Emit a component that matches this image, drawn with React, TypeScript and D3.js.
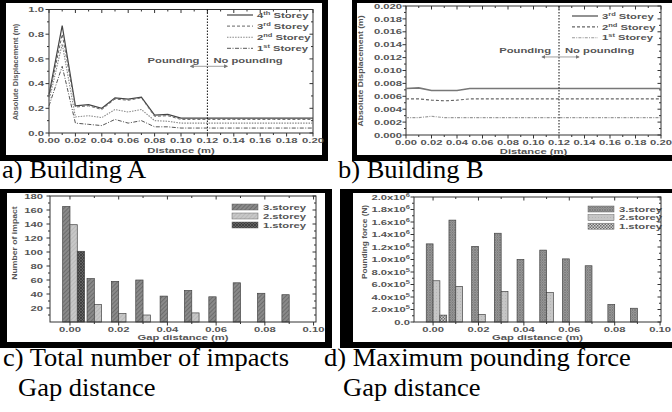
import * as React from 'react';
import * as d3 from 'd3';

// ---- a) / b) absolute displacement against distance
const distance = [0, 0.01, 0.02, 0.03, 0.04, 0.05, 0.06, 0.07, 0.08, 0.09, 0.1, 0.11, 0.12, 0.13, 0.14, 0.15, 0.16, 0.17, 0.18, 0.19, 0.2];
const a4th = [0.31, 0.87, 0.22, 0.23, 0.2, 0.285, 0.275, 0.29, 0.145, 0.15, 0.12, 0.12, 0.12, 0.12, 0.12, 0.12, 0.12, 0.12, 0.12, 0.12, 0.12];
const a3rd = [0.29, 0.8, 0.21, 0.22, 0.19, 0.275, 0.265, 0.285, 0.135, 0.14, 0.11, 0.11, 0.11, 0.11, 0.11, 0.11, 0.11, 0.11, 0.11, 0.11, 0.11];
const a2nd = [0.26, 0.72, 0.13, 0.14, 0.125, 0.19, 0.17, 0.19, 0.1, 0.095, 0.08, 0.08, 0.08, 0.08, 0.08, 0.08, 0.08, 0.08, 0.08, 0.08, 0.08];
const a1st = [0.22, 0.54, 0.08, 0.07, 0.06, 0.11, 0.08, 0.1, 0.05, 0.05, 0.04, 0.04, 0.04, 0.04, 0.04, 0.04, 0.04, 0.04, 0.04, 0.04, 0.04];
const b3rd = [0.0072, 0.0073, 0.0069, 0.0069, 0.0069, 0.0072, 0.0072, 0.0072, 0.0072, 0.0072, 0.0072, 0.0072, 0.0072, 0.0072, 0.0072, 0.0072, 0.0072, 0.0072, 0.0072, 0.0072, 0.0072];
const b2nd = [0.0056, 0.0056, 0.0054, 0.0053, 0.0054, 0.0056, 0.0056, 0.0056, 0.0056, 0.0056, 0.0056, 0.0056, 0.0056, 0.0056, 0.0056, 0.0056, 0.0056, 0.0056, 0.0056, 0.0056, 0.0056];
const b1st = [0.0027, 0.0027, 0.0029, 0.0027, 0.0027, 0.0027, 0.0027, 0.0027, 0.0027, 0.0027, 0.0027, 0.0027, 0.0027, 0.0027, 0.0027, 0.0027, 0.0027, 0.0027, 0.0027, 0.0027, 0.0027];
const poundingLimit = 0.12;

const distTicks = [0, 0.02, 0.04, 0.06, 0.08, 0.1, 0.12, 0.14, 0.16, 0.18, 0.2];
const distMinor = [0.01, 0.03, 0.05, 0.07, 0.09, 0.11, 0.13, 0.15, 0.17, 0.19];
const dispTicksA = [0, 0.2, 0.4, 0.6, 0.8, 1.0];
const dispMinorA = [0.1, 0.3, 0.5, 0.7, 0.9];
const dispTicksB = [0, 0.002, 0.004, 0.006, 0.008, 0.01, 0.012, 0.014, 0.016, 0.018, 0.02];
const dispMinorB = [0.001, 0.003, 0.005, 0.007, 0.009, 0.011, 0.013, 0.015, 0.017, 0.019];

// ---- c) / d) bars against gap distance
const gaps = [0, 0.01, 0.02, 0.03, 0.04, 0.05, 0.06, 0.07, 0.08, 0.09];
const impacts3 = [165, 62, 58, 60, 37, 45, 36, 56, 41, 39];
const impacts2 = [139, 25, 12, 10, 0, 13, 0, 0, 0, 0];
const impacts1 = [101, 0, 0, 0, 0, 0, 0, 0, 0, 0];
const force3 = [1.25e6, 1.63e6, 1.21e6, 1.42e6, 1.0e6, 1.15e6, 1.01e6, 0.9e6, 0.28e6, 0.22e6];
const force2 = [0.66e6, 0.57e6, 0.12e6, 0.49e6, 0, 0.47e6, 0, 0, 0, 0];
const force1 = [0.11e6, 0, 0, 0, 0, 0, 0, 0, 0, 0];
const storeyNames = ['3.storey', '2.storey', '1.storey'];

const gapTicks = [0, 0.02, 0.04, 0.06, 0.08, 0.1];
const gapMinor = [0.01, 0.03, 0.05, 0.07, 0.09];
const impactTicks = [20, 40, 60, 80, 100, 120, 140, 160, 180];
const impactMinor = [10, 30, 50, 70, 90, 110, 130, 150, 170];
const forceTicks = [0, 2e5, 4e5, 6e5, 8e5, 1e6, 1.2e6, 1.4e6, 1.6e6, 1.8e6, 2e6];
const forceMinor = [1e5, 3e5, 5e5, 7e5, 9e5, 1.1e6, 1.3e6, 1.5e6, 1.7e6, 1.9e6];

const SANS = 'Liberation Sans, Arial, Helvetica, sans-serif';
const SERIF = "'Liberation Serif', 'Times New Roman', serif";
const INK = '#555';
const AX = '#333';
const SX = 1.5;

const xA = d3.scaleLinear().domain([0, 0.2]).range([49, 313]);
const yA = d3.scaleLinear().domain([0, 1]).range([133, 9.5]);
const xB = d3.scaleLinear().domain([0, 0.2]).range([406, 661]);
const yB = d3.scaleLinear().domain([0, 0.02]).range([135, 6]);
const xC = d3.scaleLinear().domain([-0.0082, 0.101]).range([50, 316]);
const yC = d3.scaleLinear().domain([0, 180]).range([322, 196]);
const xD = d3.scaleLinear().domain([-0.0084, 0.1004]).range([414, 661]);
const yD = d3.scaleLinear().domain([0, 2e6]).range([322, 197]);

const fmt2 = d3.format('.2f');
const fmt1 = d3.format('.1f');
const fmt3 = d3.format('.3f');

const Txt = ({ x, y, anchor = 'start', size = 7.5, sx = SX, children }: any) => (
  <text transform={`translate(${x},${y}) scale(${sx},1)`} textAnchor={anchor}
    fontSize={size} fontFamily={SANS} fontWeight="bold" fill={INK}>{children}</text>
);

const VTxt = ({ x, y, sx = 1, size = 7.5, children }: any) => (
  <text transform={`translate(${x},${y}) rotate(-90) scale(${sx},1)`} textAnchor="middle"
    fontSize={size} fontFamily={SANS} fontWeight="bold" fill={INK}>{children}</text>
);

const Cap = ({ x, y, children }: any) => (
  <text transform={`translate(${x},${y}) scale(1.06,1)`} fontSize={25} fontFamily={SERIF} fill="#000">{children}</text>
);

const sup = (base: string, s: string, rest = '') => (
  <>{base}<tspan dy={-3} fontSize={5}>{s}</tspan><tspan dy={3}>{rest}</tspan></>
);

function Frame({ x0, y0, x1, y1, l, t, r, b }: any) {
  const d = `M${x0},${y0}H${x1}V${y1}H${x0}Z M${x0 + l},${y0 + t}V${y1 - b}H${x1 - r}V${y0 + t}Z`;
  return <path d={d} fill="#000" fillRule="evenodd" />;
}

function Axes({ x, y, xt, xm, yt, ym, xf, yf, xLabY, yLabX }: any) {
  const [l, r] = x.range();
  const [b, t] = y.range();
  const M = 3.5, m = 2;
  return (
    <g>
      <g stroke={AX} strokeWidth={1} fill="none">
        <rect x={l} y={t} width={r - l} height={b - t} />
        {xt.map((v: number) => <path key={'xt' + v} d={`M${x(v)},${b}v${M}M${x(v)},${t}v${M}`} />)}
        {xm.map((v: number) => <path key={'xm' + v} d={`M${x(v)},${b}v${m}M${x(v)},${t}v${m}`} />)}
        {yt.map((v: number) => <path key={'yt' + v} d={`M${l},${y(v)}h${-M}M${r},${y(v)}h${-M}`} />)}
        {ym.map((v: number) => <path key={'ym' + v} d={`M${l},${y(v)}h${-m}M${r},${y(v)}h${-m}`} />)}
      </g>
      {xt.map((v: number) => <Txt key={'xl' + v} x={x(v)} y={xLabY} anchor="middle">{xf(v)}</Txt>)}
      {yt.map((v: number) => <Txt key={'yl' + v} x={yLabX} y={y(v) + 2.6} anchor="end">{yf(v)}</Txt>)}
    </g>
  );
}

const forceLabel = (v: number) => {
  if (v === 0) return '0.0';
  if (v < 1e6) return sup(fmt1(v / 1e5) + 'x10', '5');
  return sup(fmt1(v / 1e6) + 'x10', '6');
};

const seriesA = [
  { vals: a4th, label: sup('4', 'th', ' Storey'), stroke: '#444', dash: '', w: 1.2 },
  { vals: a3rd, label: sup('3', 'rd', ' Storey'), stroke: '#666', dash: '3,2', w: 1 },
  { vals: a2nd, label: sup('2', 'nd', ' Storey'), stroke: '#888', dash: '1.5,1.2', w: 1.1 },
  { vals: a1st, label: sup('1', 'st', ' Storey'), stroke: '#555', dash: '4,1.5,1,1.5', w: 1 },
];
const seriesB = [
  { vals: b3rd, label: sup('3', 'rd', ' Storey'), stroke: '#777', dash: '', w: 1.6 },
  { vals: b2nd, label: sup('2', 'nd', ' Storey'), stroke: '#666', dash: '3,2', w: 1.1 },
  { vals: b1st, label: sup('1', 'st', ' Storey'), stroke: '#999', dash: '3,1.2,1,1.2', w: 1.1 },
];

function LinePanel({ x, y, series, legX, legY, legStep, annY, txtY }: any) {
  const [b, t] = y.range();
  const px = x(poundingLimit);
  return (
    <g>
      {series.map((s: any, i: number) => {
        const line = d3.line<number>().x((_, j) => x(distance[j])).y((d) => y(d));
        return <path key={i} d={line(s.vals) || ''} fill="none" stroke={s.stroke}
          strokeWidth={s.w} strokeDasharray={s.dash} />;
      })}
      <line x1={px} x2={px} y1={t} y2={b} stroke="#111" strokeWidth={1} strokeDasharray="1.5,1.5" />
      {series.map((s: any, i: number) => (
        <g key={'lg' + i}>
          <line x1={legX} x2={legX + 26} y1={legY + i * legStep} y2={legY + i * legStep}
            stroke={s.stroke} strokeWidth={s.w} strokeDasharray={s.dash} />
          <Txt x={legX + 30} y={legY + i * legStep + 2.6}>{s.label}</Txt>
        </g>
      ))}
      <Txt x={px - 8} y={txtY} anchor="end">Pounding</Txt>
      <Txt x={px + 6} y={txtY}>No pounding</Txt>
      <g stroke="#888" strokeWidth={0.8} markerEnd="url(#arr)">
        <line x1={px} x2={px - 17} y1={annY} y2={annY} />
        <line x1={px} x2={px + 20} y1={annY} y2={annY} />
      </g>
    </g>
  );
}

function BarPanel({ x, y, series, fills, legX, legY, legStep }: any) {
  const bw = 0.003;
  return (
    <g>
      {series.map((vals: number[], k: number) => (
        <g key={k} fill={`url(#${fills[k]})`} stroke="#444" strokeWidth={0.7}>
          {vals.map((v, i) => v > 0 && (
            <rect key={i} x={x(gaps[i] + (k - 1) * bw)} y={y(v)}
              width={x(bw) - x(0)} height={y(0) - y(v)} />
          ))}
        </g>
      ))}
      {storeyNames.map((n, k) => (
        <g key={n}>
          <rect x={legX} y={legY + k * legStep - 3} width={26} height={6}
            fill={`url(#${fills[k]})`} stroke="#666" strokeWidth={0.5} />
          <Txt x={legX + 31} y={legY + k * legStep + 2.6}>{n}</Txt>
        </g>
      ))}
    </g>
  );
}

export default function App() {
  return (
    <svg width={672} height={412} style={{ position: 'absolute', left: 0, top: 0, background: '#fff' }}>
      <defs>
        <marker id="arr" viewBox="0 0 6 6" refX="5" refY="3" markerWidth="5" markerHeight="5" orient="auto">
          <path d="M0,0L6,3L0,6Z" fill="#777" />
        </marker>
        <pattern id="c3" width="3" height="3" patternUnits="userSpaceOnUse" patternTransform="rotate(45)">
          <rect width="3" height="3" fill="#8a8a8a" />
          <line x1="0" y1="0" x2="0" y2="3" stroke="#5a5a5a" strokeWidth="1.2" />
        </pattern>
        <pattern id="c2" width="3" height="3" patternUnits="userSpaceOnUse" patternTransform="rotate(45)">
          <rect width="3" height="3" fill="#c8c8c8" />
          <line x1="0" y1="0" x2="0" y2="3" stroke="#ababab" strokeWidth="1" />
        </pattern>
        <pattern id="c1" width="3" height="3" patternUnits="userSpaceOnUse">
          <rect width="3" height="3" fill="#626262" />
          <path d="M0,0L3,3M3,0L0,3" stroke="#3a3a3a" strokeWidth="0.8" />
        </pattern>
        <pattern id="d3" width="2.5" height="2.5" patternUnits="userSpaceOnUse">
          <rect width="2.5" height="2.5" fill="#a2a2a2" />
          <path d="M0,0L2.5,2.5M2.5,0L0,2.5" stroke="#727272" strokeWidth="0.7" />
        </pattern>
        <pattern id="d2" width="3" height="3" patternUnits="userSpaceOnUse">
          <rect width="3" height="3" fill="#c6c6c6" />
          <circle cx="1.5" cy="1.5" r="0.5" fill="#b0b0b0" />
        </pattern>
        <pattern id="d1" width="3" height="3" patternUnits="userSpaceOnUse">
          <rect width="3" height="3" fill="#d0d0d0" />
          <rect width="1.5" height="1.5" fill="#6a6a6a" />
          <rect x="1.5" y="1.5" width="1.5" height="1.5" fill="#6a6a6a" />
        </pattern>
      </defs>

      {/* a) Building A */}
      <Frame x0={0} y0={0} x1={328} y1={161} l={6} t={3} r={6} b={6} />
      <Axes x={xA} y={yA} xt={distTicks} xm={distMinor} yt={dispTicksA} ym={dispMinorA}
        xf={fmt2} yf={fmt1} xLabY={143} yLabX={44} />
      <LinePanel x={xA} y={yA} series={seriesA} legX={227} legY={15} legStep={11.1}
        txtY={yA(0.567)} annY={yA(0.54)} />
      <Txt x={(xA(0) + xA(0.2)) / 2} y={152.5} anchor="middle">Distance (m)</Txt>
      <VTxt x={18} y={72} sx={1.0}>Absolute Displacement (m)</VTxt>

      {/* b) Building B */}
      <Frame x0={352} y0={0} x1={690} y1={161} l={5} t={3} r={6} b={6} />
      <Axes x={xB} y={yB} xt={distTicks} xm={distMinor} yt={dispTicksB} ym={dispMinorB}
        xf={fmt2} yf={fmt3} xLabY={144.5} yLabX={402} />
      <LinePanel x={xB} y={yB} series={seriesB} legX={572} legY={16} legStep={10.9}
        txtY={yB(0.0127)} annY={yB(0.0121)} />
      <Txt x={(xB(0) + xB(0.2)) / 2} y={153.5} anchor="middle">Distance (m)</Txt>
      <VTxt x={363} y={71} sx={1.15}>Absolute Displacement (m)</VTxt>

      {/* c) number of impacts */}
      <Frame x0={0} y0={189} x1={332} y1={348} l={7} t={4} r={7} b={6} />
      <BarPanel x={xC} y={yC} series={[impacts3, impacts2, impacts1]} fills={['c3', 'c2', 'c1']}
        legX={232} legY={207} legStep={9} />
      <Axes x={xC} y={yC} xt={gapTicks} xm={gapMinor} yt={impactTicks} ym={impactMinor}
        xf={fmt2} yf={(v: number) => String(v)} xLabY={332} yLabX={43} />
      <Txt x={(xC.range()[0] + xC.range()[1]) / 2} y={340} anchor="middle">Gap distance (m)</Txt>
      <VTxt x={17} y={243} sx={1.15}>Number of impact</VTxt>

      {/* d) maximum pounding force */}
      <Frame x0={340} y0={189} x1={690} y1={348} l={13} t={4} r={6} b={6} />
      <BarPanel x={xD} y={yD} series={[force3, force2, force1]} fills={['d3', 'd2', 'd1']}
        legX={588} legY={209} legStep={8.6} />
      <Axes x={xD} y={yD} xt={gapTicks} xm={gapMinor} yt={forceTicks} ym={forceMinor}
        xf={fmt2} yf={forceLabel} xLabY={332} yLabX={410} />
      <Txt x={(xD.range()[0] + xD.range()[1]) / 2} y={340} anchor="middle">Gap distance (m)</Txt>
      <VTxt x={367} y={242} sx={1.1}>Pounding force (N)</VTxt>

      {/* captions */}
      <Cap x={2} y={178}>a) Building A</Cap>
      <Cap x={338} y={178}>b) Building B</Cap>
      <Cap x={3} y={366}>c) Total number of impacts</Cap>
      <Cap x={18} y={396}>Gap distance</Cap>
      <Cap x={324} y={366}>d) Maximum pounding force</Cap>
      <Cap x={343} y={396}>Gap distance</Cap>
    </svg>
  );
}
